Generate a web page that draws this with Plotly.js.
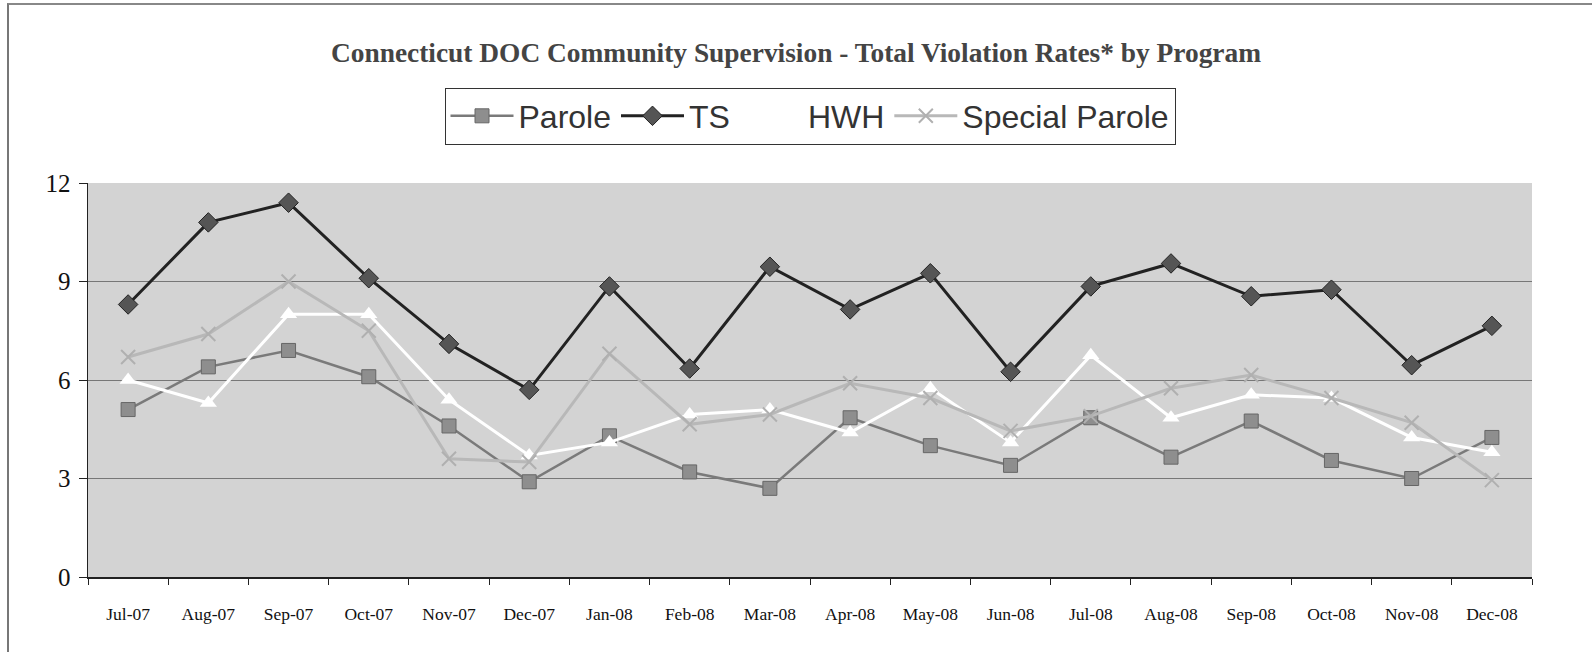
<!DOCTYPE html>
<html>
<head>
<meta charset="utf-8">
<script src="https://cdn.plot.ly/plotly-3.0.1.min.js"></script>
<style>
html,body{margin:0;padding:0;background:#fff;}
#wrap{position:relative;width:1592px;height:652px;}
#frame{position:absolute;left:7px;top:3px;width:1600px;height:700px;border-left:2px solid #777;border-top:2px solid #888;pointer-events:none;z-index:5;}
#chart{position:absolute;left:0;top:0;width:1592px;height:652px;}
</style>
</head>
<body>
<div id="wrap"><div id="chart"></div><div id="frame"></div></div>
<script>
const months = ["Jul-07","Aug-07","Sep-07","Oct-07","Nov-07","Dec-07","Jan-08","Feb-08","Mar-08","Apr-08","May-08","Jun-08","Jul-08","Aug-08","Sep-08","Oct-08","Nov-08","Dec-08"];
const parole = [5.1,6.4,6.9,6.1,4.6,2.9,4.3,3.2,2.7,4.85,4.0,3.4,4.85,3.65,4.75,3.55,3.0,4.25];
const ts = [8.3,10.8,11.4,9.1,7.1,5.7,8.85,6.35,9.45,8.15,9.25,6.25,8.85,9.55,8.55,8.75,6.45,7.65];
const hwh = [6.0,5.3,8.0,8.0,5.4,3.7,4.1,4.95,5.1,4.4,5.75,4.1,6.75,4.85,5.55,5.45,4.25,3.8];
const specialParole = [6.7,7.4,9.0,7.5,3.6,3.5,6.8,4.65,4.95,5.9,5.45,4.45,4.9,5.75,6.15,5.45,4.7,2.95];
const yTicks = [0,3,6,9,12];

const traces = [
  {x:months,y:parole,name:"Parole",type:"scatter",mode:"lines+markers",
   line:{color:"#7a7a7a",width:2.5},marker:{symbol:"square",size:14,color:"#8e8e8e",line:{color:"#666",width:1}}},
  {x:months,y:ts,name:"TS",type:"scatter",mode:"lines+markers",
   line:{color:"#222",width:3},marker:{symbol:"diamond",size:15,color:"#555",line:{color:"#222",width:1}}},
  {x:months,y:hwh,name:"HWH",type:"scatter",mode:"lines+markers",
   line:{color:"#ffffff",width:3},marker:{symbol:"triangle-up",size:15,color:"#ffffff",line:{width:0}}},
  {x:months,y:specialParole,name:"Special Parole",type:"scatter",mode:"lines+markers",
   line:{color:"#b8b8b8",width:3},marker:{symbol:"x-thin",size:14,color:"#b0b0b0",line:{color:"#b0b0b0",width:2}}}
];

const layout = {
  width:1592,height:652,
  paper_bgcolor:"#ffffff",plot_bgcolor:"#d3d3d3",
  margin:{l:88,r:60,t:183,b:75},
  title:{text:"<b>Connecticut DOC Community Supervision - Total Violation Rates* by Program</b>",
    font:{family:"Liberation Serif, Times New Roman, serif",size:27.4,color:"#444"},
    x:0.5,xanchor:"center",y:0.92,yanchor:"middle"},
  showlegend:true,
  legend:{orientation:"h",x:0.5,xanchor:"center",y:1.17,yanchor:"middle",
    font:{family:"Liberation Sans, Arial, sans-serif",size:32,color:"#333"},
    bordercolor:"#333",borderwidth:1,bgcolor:"#ffffff",itemwidth:63,tracegroupgap:0},
  xaxis:{type:"category",tickson:"boundaries",ticks:"outside",ticklen:6,tickcolor:"#222",
    showline:true,linecolor:"#222",linewidth:1.5,showgrid:false,
    tickfont:{family:"Liberation Serif, Times New Roman, serif",size:17.5,color:"#111"},
    ticklabelstandoff:20,range:[-0.5,17.5],fixedrange:true},
  yaxis:{range:[0,12],tickvals:yTicks,ticktext:yTicks.map(String),ticks:"outside",ticklen:8,tickcolor:"#222",
    showline:true,linecolor:"#222",linewidth:1.5,
    showgrid:true,gridcolor:"#777",gridwidth:1,zeroline:false,
    tickfont:{family:"Liberation Serif, Times New Roman, serif",size:25,color:"#111"},ticklabelstandoff:3}
};
Plotly.newPlot("chart",traces,layout,{displayModeBar:false,staticPlot:true});
</script>
</body>
</html>
